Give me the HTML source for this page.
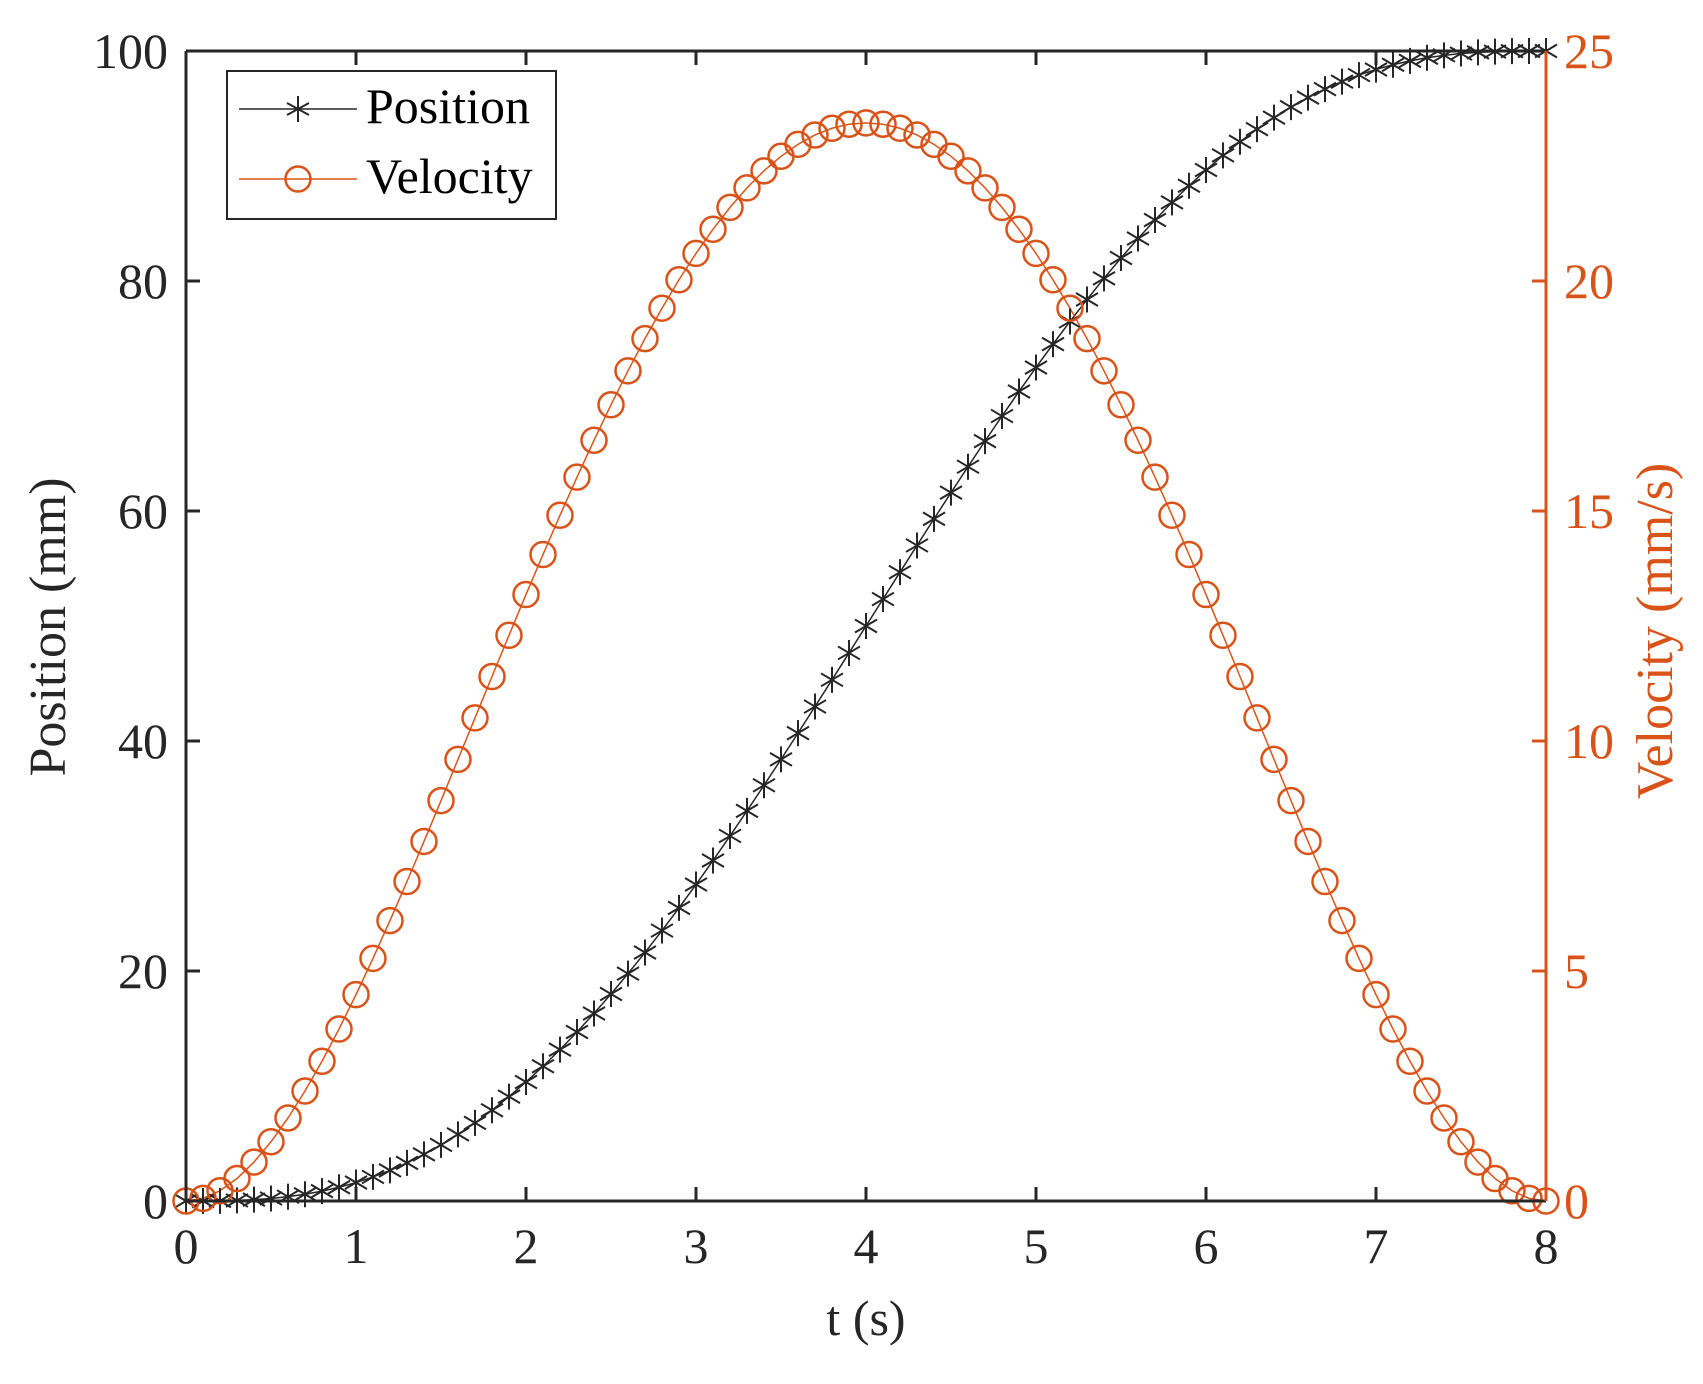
<!DOCTYPE html>
<html><head><meta charset="utf-8"><style>
html,body{margin:0;padding:0;background:#fff}
svg{display:block;font-family:"Liberation Serif",serif}
</style></head><body>
<svg id="s" width="1703" height="1384" viewBox="0 0 1703 1384" xmlns="http://www.w3.org/2000/svg">
<rect width="1703" height="1384" fill="#fff"/>
<g id="series"></g>
<g stroke="#262626" stroke-width="3" fill="none">
<path d="M186,51 H1546 M186,1201 H1546 M186,51 V1201"/>
</g>
<path d="M1546,51 V1201" stroke="#D95319" stroke-width="3"/>
<g id="ticks"></g>
<g font-size="50" fill="#262626" text-anchor="end">
<text x="168" y="68">100</text><text x="168" y="298">80</text><text x="168" y="528">60</text>
<text x="168" y="758">40</text><text x="168" y="988">20</text><text x="168" y="1218">0</text>
</g>
<g font-size="50" fill="#D95319">
<text x="1564" y="68">25</text><text x="1564" y="298">20</text><text x="1564" y="528">15</text>
<text x="1564" y="758">10</text><text x="1564" y="988">5</text><text x="1564" y="1218">0</text>
</g>
<g font-size="50" fill="#262626" text-anchor="middle">
<text x="186" y="1263">0</text><text x="356" y="1263">1</text><text x="526" y="1263">2</text>
<text x="696" y="1263">3</text><text x="866" y="1263">4</text><text x="1036" y="1263">5</text>
<text x="1206" y="1263">6</text><text x="1376" y="1263">7</text><text x="1546" y="1263">8</text>
<text x="866" y="1335">t (s)</text>
<text font-size="52" transform="translate(65,627) rotate(-90)">Position (mm)</text>
</g>
<text font-size="52" fill="#D95319" text-anchor="middle" transform="translate(1672,631) rotate(-90)">Velocity (mm/s)</text>
<rect x="227" y="71" width="329" height="148" fill="#fff" stroke="#262626" stroke-width="2"/>
<path d="M239,109 H357" stroke="#262626" stroke-width="1.5"/>
<g stroke="#262626" stroke-width="2"><path d="M298,96 V122 M287,103 L309,115 M287,115 L309,103"/></g>
<path d="M239,179 H357" stroke="#D95319" stroke-width="1.5"/>
<circle cx="298" cy="179" r="12.5" fill="none" stroke="#D95319" stroke-width="2.5"/>
<g font-size="50" fill="#000"><text x="366" y="123">Position</text><text x="366" y="193">Velocity</text></g>
</svg>
<script>
var NS="http://www.w3.org/2000/svg",g=document.getElementById('series'),tk=document.getElementById('ticks');
function el(n,a,p){var e=document.createElementNS(NS,n);for(var k in a)e.setAttribute(k,a[k]);(p||g).appendChild(e);return e;}
var X=function(t){return 186+t*170;},YP=function(p){return 1201-p*11.5;},YV=function(v){return 1201-v*46;};
var pp=[],vp=[];
for(var i=0;i<=80;i++){var t=i/10,u=t/8;
 var p=100*(10*u*u*u-15*u*u*u*u+6*Math.pow(u,5));
 var v=100/8*(30*u*u-60*u*u*u+30*u*u*u*u);
 pp.push([X(t),YP(p)]);vp.push([X(t),YV(v)]);}
el('polyline',{points:pp.map(function(a){return a.join(',')}).join(' '),fill:'none',stroke:'#262626','stroke-width':1.5});
el('polyline',{points:vp.map(function(a){return a.join(',')}).join(' '),fill:'none',stroke:'#D95319','stroke-width':1.5});
pp.forEach(function(a){var x=a[0],y=a[1];el('path',{d:'M'+x+','+(y-13)+'V'+(y+13)+'M'+(x-11)+','+(y-6.5)+'L'+(x+11)+','+(y+6.5)+'M'+(x-11)+','+(y+6.5)+'L'+(x+11)+','+(y-6.5),stroke:'#262626','stroke-width':2});});
vp.forEach(function(a){el('circle',{cx:a[0],cy:a[1],r:12.5,fill:'none',stroke:'#D95319','stroke-width':2.5});});
for(var k=1;k<8;k++){var x=X(k);el('path',{d:'M'+x+',1201V1187M'+x+',51V65',stroke:'#262626','stroke-width':3},tk);}
for(var k=1;k<5;k++){var y=1201-k*230;el('path',{d:'M186,'+y+'H200',stroke:'#262626','stroke-width':3},tk);el('path',{d:'M1546,'+y+'H1532',stroke:'#D95319','stroke-width':3},tk);}
</script>
</body></html>
